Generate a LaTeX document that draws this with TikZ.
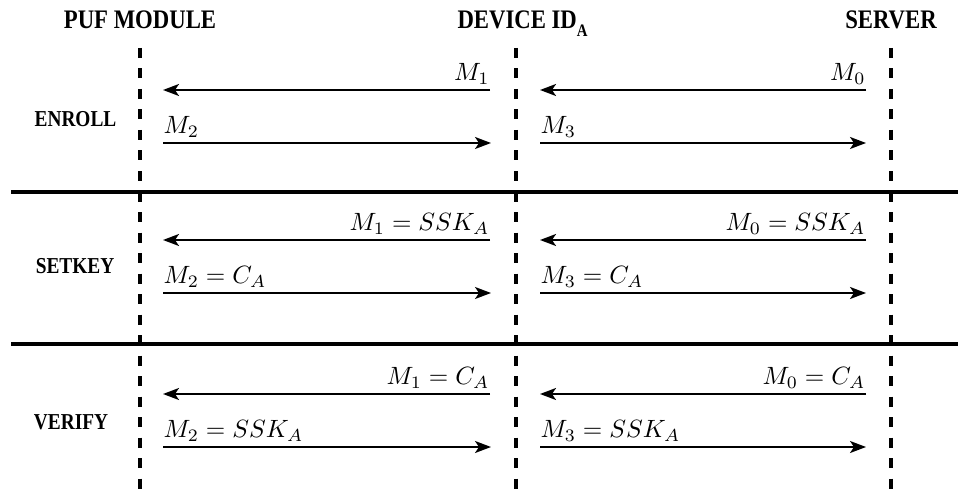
\documentclass[tikz,border=0pt]{standalone}
\usepackage{fontspec}
\newfontfamily\hdfont[FakeStretch=0.85]{Liberation Serif}
\usetikzlibrary{arrows.meta}
\begin{document}
\begin{tikzpicture}[x=0.4pt,y=-0.4pt,
  lifeline/.style={line width=1.4pt, dash pattern=on 4pt off 4.2pt},
  sepline/.style={line width=1.3pt},
  msg/.style={line width=0.8pt,-{Stealth[length=6.4pt,width=4.8pt,inset=1.6pt]}},
  hdr/.style={font=\hdfont\bfseries\fontsize{10.7}{12}\selectfont, inner sep=0pt},
  rowlbl/.style={font=\hdfont\bfseries\fontsize{9.1}{11}\selectfont, anchor=base, inner sep=0pt},
  lblL/.style={anchor=base west, inner sep=0pt},
  lblR/.style={anchor=base east, inner sep=0pt}]
\useasboundingbox (0,0) rectangle (958,492);

% headers
\node[hdr, anchor=base] (hpuf) at (140,29) {PUF MODULE};
\node[hdr, anchor=base west] (hdev) at (457,29) {DEVICE ID\raisebox{-3pt}{\fontsize{7}{8}\selectfont A}};
\node[hdr, anchor=base] (hsrv) at (891,29) {SERVER};

% lifelines
\coordinate (pufT) at (140,48);  \coordinate (pufB) at (140,492);
\coordinate (devT) at (516,48);  \coordinate (devB) at (516,492);
\coordinate (srvT) at (891,48);  \coordinate (srvB) at (891,492);
\draw[lifeline] (pufT) -- (pufB);
\draw[lifeline] (devT) -- (devB);
\draw[lifeline] (srvT) -- (srvB);

% separators
\coordinate (s1l) at (11,192);  \coordinate (s1r) at (958,192);
\coordinate (s2l) at (11,344);  \coordinate (s2r) at (958,344);
\draw[sepline] (s1l) -- (s1r);
\draw[sepline] (s2l) -- (s2r);

% row labels
\node[rowlbl] (lenr) at (75.5,126.7) {ENROLL};
\node[rowlbl] (lset) at (75,273) {SETKEY};
\node[rowlbl] (lver) at (71,429) {VERIFY};

% messages
\foreach \r/\ya/\yb/\la/\lb/\lc/\ld in {
  enr/90/143/{M_1}/{M_2}/{M_0}/{M_3},
  set/240/293/{M_1 = SSK_A}/{M_2 = C_A}/{M_0 = SSK_A}/{M_3 = C_A},
  ver/394/447/{M_1 = C_A}/{M_2 = SSK_A}/{M_0 = C_A}/{M_3 = SSK_A}}{
  \coordinate (\r a1) at (490,\ya); \coordinate (\r a2) at (163,\ya);
  \coordinate (\r b1) at (163,\yb); \coordinate (\r b2) at (491,\yb);
  \coordinate (\r c1) at (866,\ya); \coordinate (\r c2) at (540,\ya);
  \coordinate (\r d1) at (540,\yb); \coordinate (\r d2) at (866,\yb);
  \draw[msg] (\r a1) -- (\r a2);
  \draw[msg] (\r b1) -- (\r b2);
  \draw[msg] (\r c1) -- (\r c2);
  \draw[msg] (\r d1) -- (\r d2);
  \node[lblR] (\r la) at ([yshift=3.8pt]\r a1) {$\la$};
  \node[lblL] (\r lb) at ([yshift=3.8pt]\r b1) {$\lb$};
  \node[lblR] (\r lc) at ([yshift=3.8pt]\r c1) {$\lc$};
  \node[lblL] (\r ld) at ([yshift=3.8pt]\r d1) {$\ld$};
}
\end{tikzpicture}
\end{document}
